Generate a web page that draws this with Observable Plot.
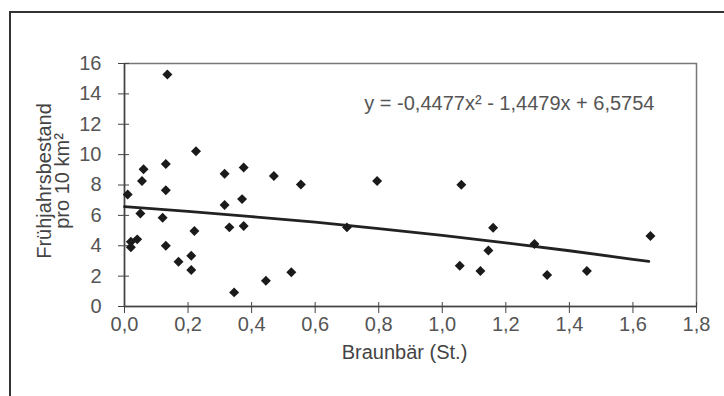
<!DOCTYPE html>
<html><head><meta charset="utf-8">
<script src="https://cdn.jsdelivr.net/npm/d3@7"></script>
<script src="https://cdn.jsdelivr.net/npm/@observablehq/plot@0.6"></script>
<style>
body{margin:0;background:#fff;}
#wrap{position:relative;width:724px;height:396px;overflow:hidden;background:#fff;}
#border{position:absolute;left:9px;top:11px;width:730px;height:400px;border-left:2px solid #333;border-top:2px solid #333;box-sizing:border-box;}
#chart{position:absolute;left:0;top:0;}
</style></head><body><div id="wrap"><div id="border"></div><div id="chart"></div></div>
<script>
const bearX = [0.01, 0.02, 0.02, 0.04, 0.05, 0.055, 0.06, 0.12, 0.13, 0.13, 0.13, 0.135, 0.17, 0.21, 0.21, 0.22, 0.225, 0.315, 0.315, 0.33, 0.345, 0.375, 0.37, 0.375, 0.445, 0.47, 0.525, 0.555, 0.70, 0.795, 1.06, 1.055, 1.16, 1.145, 1.12, 1.29, 1.33, 1.455, 1.655];
const springY = [7.38, 4.26, 3.9, 4.42, 6.13, 8.26, 9.03, 5.84, 9.38, 7.66, 4.0, 15.28, 2.95, 3.34, 2.4, 4.97, 10.23, 8.74, 6.68, 5.21, 0.93, 9.16, 7.07, 5.3, 1.7, 8.6, 2.25, 8.04, 5.21, 8.26, 8.01, 2.69, 5.19, 3.68, 2.34, 4.11, 2.07, 2.34, 4.64];
const trendX = [0, 0.2, 0.4, 0.6, 0.8, 1.0, 1.2, 1.4, 1.6, 1.65];
const trendY = [6.58, 6.27, 5.92, 5.55, 5.13, 4.68, 4.19, 3.67, 3.11, 2.97];
const xTicks = [0, 0.2, 0.4, 0.6, 0.8, 1.0, 1.2, 1.4, 1.6, 1.8];
const yTicks = [0, 2, 4, 6, 8, 10, 12, 14, 16];
const equation = "y = -0,4477x² - 1,4479x + 6,5754";
const xTitle = "Braunbär (St.)";
const yTitle = "Frühjahrsbestand\npro 10 km²";

const points = bearX.map((x, i) => ({x, y: springY[i]}));
const trend = trendX.map((x, i) => ({x, y: trendY[i]}));
const fmtX = d => d3.format(".1f")(d).replace(".", ",");
const FONT = '"Liberation Sans", Arial, sans-serif';

const chart = Plot.plot({
  width: 724, height: 396,
  marginLeft: 124, marginRight: 28, marginTop: 63, marginBottom: 90,
  style: {fontFamily: FONT, fontSize: "20px", color: "#555", background: "transparent", overflow: "visible"},
  x: {domain: [0, 1.8]},
  y: {domain: [0, 16]},
  marks: [
    Plot.frame({stroke: "#777", strokeWidth: 1.5}),
    Plot.ruleY([0], {stroke: "#444", strokeWidth: 1.5}),
    Plot.ruleX([0], {stroke: "#444", strokeWidth: 1.5}),
    Plot.axisX(xTicks, {tickSize: 11, dy: -4, fill: "none", stroke: "#444", label: null}),
    Plot.axisX(xTicks, {tickSize: 0, tickPadding: 10, tickFormat: fmtX, fill: "#555", label: null}),
    Plot.axisY(yTicks, {tickSize: 11, dx: 5, fill: "none", stroke: "#444", label: null}),
    Plot.axisY(yTicks, {tickSize: 0, tickPadding: 23, fill: "#555", label: null}),
    Plot.line(trend, {x: "x", y: "y", stroke: "#222", strokeWidth: 2.8}),
    Plot.dot(points, {x: "x", y: "y", symbol: "diamond2", r: 4.5, fill: "#1a1a1a", stroke: "none"}),
    Plot.text([equation], {frameAnchor: "top-right", dx: -42, dy: 40, textAnchor: "end", lineAnchor: "middle", fill: "#555", fontSize: 20}),
    Plot.text([xTitle], {frameAnchor: "bottom", dx: -6, dy: 46, lineAnchor: "middle", fill: "#444", fontSize: 20}),
    Plot.text([yTitle], {frameAnchor: "left", dx: -70.5, dy: -4, rotate: -90, textAnchor: "middle", lineAnchor: "middle", lineHeight: 0.9, fill: "#444", fontSize: 20})
  ]
});
document.getElementById("chart").appendChild(chart);
</script>
</body></html>
